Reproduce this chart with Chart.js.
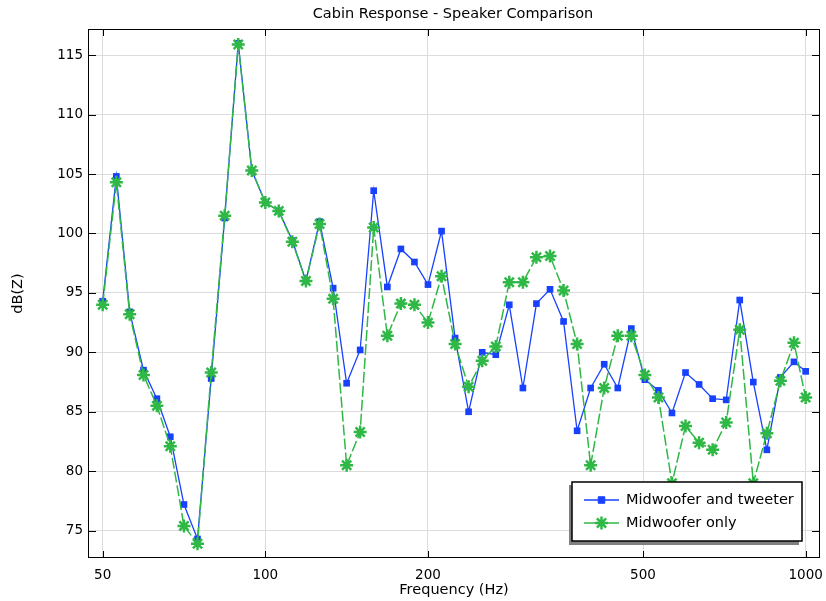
<!DOCTYPE html>
<html>
<head>
<meta charset="utf-8">
<script src="https://cdn.jsdelivr.net/npm/chart.js@4.4.1/dist/chart.umd.min.js"></script>
<style>
    html, body { margin: 0; padding: 0; background: #fff; }
    #chart { display: block; }
</style>
</head>
<body>
<canvas id="chart" width="826" height="601"></canvas>
<script>
    "use strict";

    // Data (1/12 octave bands)
    var freqs = [50, 53, 56.1, 59.5, 63, 66.7, 70.7, 74.9, 79.4, 84.1, 89.1, 94.4, 100, 105.9, 112.2, 118.9, 126, 133.5, 141.4, 149.8,
        158.7, 168.2, 178.2, 188.8, 200, 211.9, 224.5, 237.8, 252, 267, 282.8, 299.7, 317.5, 336.4, 356.4, 377.6, 400, 423.8,
        449, 475.7, 504, 534, 565.7, 599.3, 635, 672.7, 712.7, 755.1, 800, 847.6, 898, 951.4, 1000];

    var withTweeter = [94.3, 104.8, 93.4, 88.5, 86.1, 82.9, 77.2, 74.3, 87.8, 101.3, 116.0, 105.3, 102.6, 101.9, 99.4, 96.0, 101.0, 95.4,
        87.4, 90.2, 103.6, 95.5, 98.7, 97.6, 95.7, 100.2, 91.2, 85.0, 90.0, 89.8, 94.0, 87.0, 94.1, 95.3, 92.6, 83.4, 87.0, 89.0,
        87.0, 92.0, 87.7, 86.8, 84.9, 88.3, 87.3, 86.1, 86.0, 94.4, 87.5, 81.8, 87.9, 89.2, 88.4];

    var midwooferOnly = [94.0, 104.3, 93.2, 88.1, 85.5, 82.1, 75.4, 73.9, 88.3, 101.5, 115.9, 105.3, 102.6, 101.9, 99.3, 96.0, 100.8, 94.5,
        80.5, 83.3, 100.5, 91.4, 94.1, 94.0, 92.5, 96.4, 90.7, 87.1, 89.3, 90.5, 95.9, 95.9, 98.0, 98.1, 95.2, 90.7, 80.5, 87.0,
        91.4, 91.4, 88.1, 86.2, 79.0, 83.8, 82.4, 81.8, 84.1, 91.9, 79.0, 83.2, 87.6, 90.8, 86.2];

    var xTicks = [50, 100, 200, 500, 1000];
    var yTicks = [75, 80, 85, 90, 95, 100, 105, 110, 115];

    var seriesNames = ["Midwoofer and tweeter", "Midwoofer only"];
    var blue = "#1740ff";
    var green = "#2fb845";
    var FONT = "DejaVu Sans";

    function toPoints(ys) {
        return freqs.map(function (f, i) { return { x: f, y: ys[i] }; });
    }

    // Frame, inward ticks, title, axis labels and legend
    var decorations = {
        id: "decorations",
        afterDraw: function (chart) {
            var ctx = chart.ctx;
            var a = chart.chartArea;
            var sx = chart.scales.x, sy = chart.scales.y;
            ctx.save();

            ctx.strokeStyle = "#000";
            ctx.lineWidth = 1;
            ctx.strokeRect(a.left + 0.5, a.top + 0.5, a.right - a.left - 1, a.bottom - a.top - 1);

            ctx.beginPath();
            xTicks.forEach(function (v) {
                var px = Math.round(sx.getPixelForValue(v)) + 0.5;
                ctx.moveTo(px, a.bottom); ctx.lineTo(px, a.bottom - 7);
                ctx.moveTo(px, a.top); ctx.lineTo(px, a.top + 7);
            });
            yTicks.forEach(function (v) {
                var py = Math.round(sy.getPixelForValue(v)) + 0.5;
                ctx.moveTo(a.left, py); ctx.lineTo(a.left + 8, py);
                ctx.moveTo(a.right, py); ctx.lineTo(a.right - 8, py);
            });
            ctx.stroke();

            ctx.fillStyle = "#000";
            ctx.font = "14.5px '" + FONT + "'";
            ctx.textAlign = "center";
            ctx.textBaseline = "middle";
            ctx.fillText("Cabin Response - Speaker Comparison", 453, 14);
            ctx.fillText("Frequency (Hz)", 454, 590);
            ctx.save();
            ctx.translate(18, (a.top + a.bottom) / 2);
            ctx.rotate(-Math.PI / 2);
            ctx.fillText("dB(Z)", 0, 0);
            ctx.restore();

            // legend
            var lx = 572, ly = 482, lw = 230, lh = 59;
            ctx.fillStyle = "#808080";
            ctx.fillRect(lx - 3, ly + 3, lw, lh + 1);
            ctx.fillStyle = "#fff";
            ctx.fillRect(lx, ly, lw, lh);
            ctx.lineWidth = 1.5;
            ctx.strokeStyle = "#000";
            ctx.strokeRect(lx, ly, lw, lh);

            var rows = [
                { y: 500, color: blue, style: "rect", r: 4.6, bw: 1, name: seriesNames[0] },
                { y: 523, color: green, style: "star", r: 6.5, bw: 2.5, name: seriesNames[1] }
            ];
            rows.forEach(function (row) {
                ctx.strokeStyle = row.color;
                ctx.lineWidth = 1.3;
                ctx.beginPath();
                ctx.moveTo(584, row.y); ctx.lineTo(619, row.y);
                ctx.stroke();
                ctx.fillStyle = row.color;
                ctx.lineWidth = row.bw;
                Chart.helpers.drawPoint(ctx, { pointStyle: row.style, radius: row.r, borderWidth: row.bw, rotation: 0 }, 601.5, row.y);
                ctx.fillStyle = "#000";
                ctx.textAlign = "left";
                ctx.fillText(row.name, 626, row.y);
            });
            ctx.restore();
        }
    };

    var ctx = document.getElementById("chart").getContext("2d");
    var myChart = new Chart(ctx, {
        type: "line",
        data: {
            datasets: [{
                label: seriesNames[0],
                data: toPoints(withTweeter),
                borderColor: blue,
                backgroundColor: blue,
                borderWidth: 1.3,
                pointStyle: "rect",
                pointRadius: 4.7,
                pointBorderWidth: 0,
                fill: false,
                tension: 0,
                order: 1
            },
            {
                label: seriesNames[1],
                data: toPoints(midwooferOnly),
                borderColor: green,
                backgroundColor: green,
                borderWidth: 1.5,
                borderDash: [11, 3],
                pointStyle: "star",
                pointRadius: 6.5,
                pointBorderWidth: 2.5,
                pointBorderColor: green,
                fill: false,
                tension: 0,
                order: 0
            }]
        },
        options: {
            responsive: false,
            animation: false,
            devicePixelRatio: 1,
            layout: { autoPadding: false, padding: { left: 0, right: 6, top: 29, bottom: 0 } },
            plugins: {
                legend: { display: false },
                title: { display: false },
                tooltip: { enabled: false }
            },
            scales: {
                x: {
                    type: "logarithmic",
                    min: 46.97,
                    max: 1063,
                    afterBuildTicks: function (scale) {
                        scale.ticks = xTicks.map(function (v) { return { value: v }; });
                    },
                    afterFit: function (scale) {
                        scale.height = 43;
                        scale.paddingRight = 0;
                        scale.paddingLeft = 0;
                    },
                    grid: { color: "#dcdcdc", lineWidth: 1, drawTicks: false },
                    border: { display: false },
                    ticks: {
                        color: "#000",
                        font: { family: FONT, size: 13.5 },
                        padding: 9,
                        maxRotation: 0,
                        autoSkip: false,
                        callback: function (v) { return String(v); }
                    }
                },
                y: {
                    min: 72.7,
                    max: 117.2,
                    afterBuildTicks: function (scale) {
                        scale.ticks = yTicks.map(function (v) { return { value: v }; });
                    },
                    afterFit: function (scale) {
                        scale.width = 88;
                        scale.paddingTop = 0;
                        scale.paddingBottom = 0;
                    },
                    grid: { color: "#dcdcdc", lineWidth: 1, drawTicks: false },
                    border: { display: false },
                    ticks: {
                        color: "#000",
                        font: { family: FONT, size: 13.5 },
                        padding: 5,
                        callback: function (v) { return String(v); }
                    }
                }
            }
        },
        plugins: [decorations]
    });
</script>
</body>
</html>
